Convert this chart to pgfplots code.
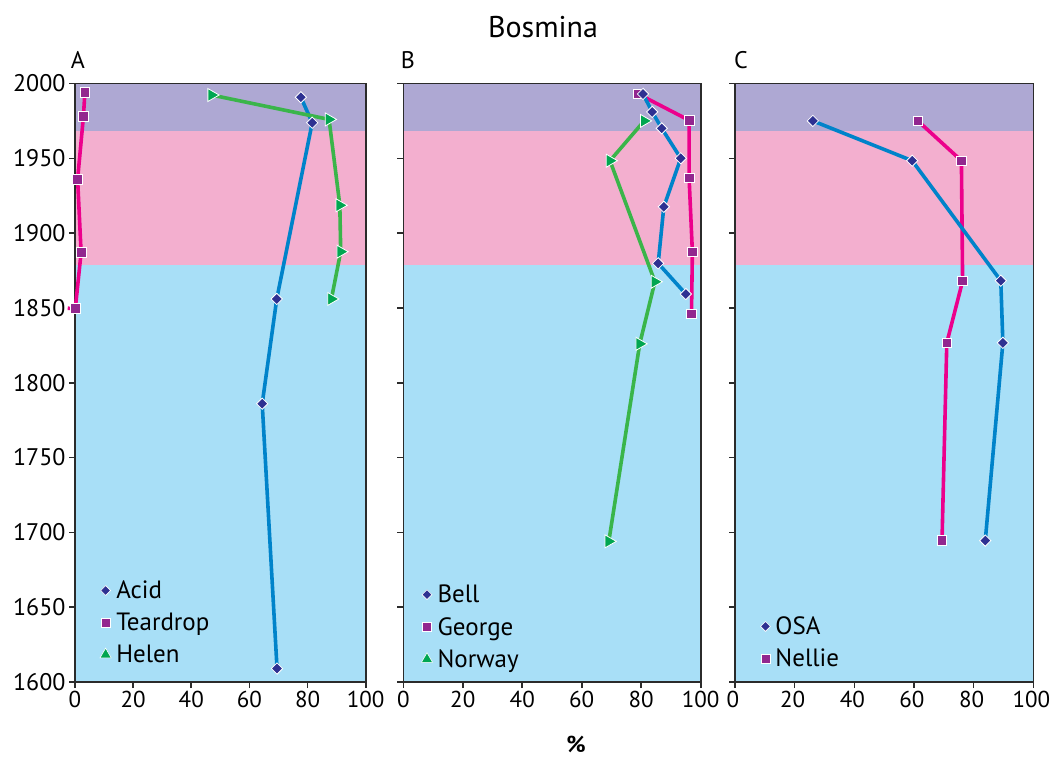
\documentclass[border=0pt]{standalone}
\usepackage{pgfplots}
\pgfplotsset{compat=1.18}
\usepackage{fontspec}
\setmainfont{PT Sans}

% zone shading
\definecolor{bandtop}{HTML}{AEA8D3}
\definecolor{bandmid}{HTML}{F3AFCF}
\definecolor{bandlow}{HTML}{A8DFF7}
% series lines and marks
\definecolor{lnblue}{HTML}{0083CA}
\definecolor{lnpink}{HTML}{EC008C}
\definecolor{lngreen}{HTML}{3AB54A}
\definecolor{mkdiamond}{HTML}{2E3192}
\definecolor{mksquare}{HTML}{92278F}
\definecolor{mktri}{HTML}{00A651}
\definecolor{axgray}{HTML}{2B2B2B}

\pgfplotsset{
  panel/.style={
    scale only axis, height=598.5pt,
    xmin=0, xmax=100, ymin=1600, ymax=2000,
    xtick={0,20,...,100}, ytick={1600,1650,...,2000},
    tick align=outside, tick pos=left, major tick length=6pt,
    axis line style={draw=axgray, line width=1.6pt},
    every tick/.style={draw=axgray, line width=1.6pt},
    yticklabel style={font=\fontsize{24}{28}\selectfont},
    xticklabel style={font=\fontsize{23}{27}\selectfont},
    /pgf/number format/assume math mode=true,
    /pgf/number format/1000 sep={},
    clip=false,
    legend cell align=left,
    legend style={draw=none, fill=none, anchor=north west,
      font=\fontsize{25}{29}\selectfont, row sep=9pt,
      /tikz/every odd column/.append style={column sep=3pt}},
  },
  diaS/.style={line width=3.6pt, color=lnblue, mark=square*, mark size=4pt,
    mark options={rotate=45, fill=mkdiamond, draw=white, line width=0.8pt}},
  sqS/.style={line width=3.6pt, color=lnpink, mark=square*, mark size=4.8pt,
    mark options={fill=mksquare, draw=white, line width=0.8pt}},
  triS/.style={line width=3.6pt, color=lngreen, mark=triangle*, mark size=7.5pt,
    mark options={rotate=-90, fill=mktri, draw=white, line width=0.8pt}},
  legdia/.style={only marks, mark=square*, mark size=3.5pt,
    mark options={rotate=45, fill=mkdiamond, draw=white, line width=0.6pt}},
  legsq/.style={only marks, mark=square*, mark size=4.4pt,
    mark options={fill=mksquare, draw=white, line width=0.6pt}},
  legtri/.style={only marks, mark=triangle*, mark size=6.5pt,
    mark options={fill=mktri, draw=white, line width=0.6pt}},
}

% three dated zones, kept just inside the frame
\newcommand{\zones}{%
  \fill[bandlow] ([shift={(0.8pt,0.8pt)}]axis cs:0,1600) rectangle ([xshift=-0.8pt]axis cs:100,1879);
  \fill[bandmid] ([xshift=0.8pt]axis cs:0,1879) rectangle ([xshift=-0.8pt]axis cs:100,1968);
  \fill[bandtop] ([xshift=0.8pt]axis cs:0,1968) rectangle ([shift={(-0.8pt,-0.8pt)}]axis cs:100,2000);
}

\begin{document}
\begin{tikzpicture}
\path[use as bounding box] (0pt,0pt) rectangle (1050pt,758pt);

\node[font=\fontsize{30}{34}\selectfont] at (543pt,731pt) {Bosmina};
\node[font=\fontsize{24}{28}\selectfont] at (78pt,698pt) {A};
\node[font=\fontsize{24}{28}\selectfont] at (408pt,698pt) {B};
\node[font=\fontsize{24}{28}\selectfont] at (741pt,698pt) {C};
\node[font=\bfseries\fontsize{23}{27}\selectfont] at (576pt,14pt) {\%};

% Panel A
\begin{axis}[panel, width=290.7pt, at={(75pt,76pt)}, anchor=south west,
  legend style={at={(0.075,0.176)}}]
  \zones
  \addlegendimage{legdia}\addlegendentry{Acid}
  \addlegendimage{legsq}\addlegendentry{Teardrop}
  \addlegendimage{legtri}\addlegendentry{Helen}
  \addplot[line width=3.6pt, color=lnpink, forget plot] coordinates {(0.1,1849.5) (-2.5,1849.8)};
  \addplot[sqS, forget plot] coordinates {
    (3.4,1994) (2.9,1978) (0.9,1936) (2.1,1887) (0.1,1849.5)};
  \addplot[diaS, forget plot] coordinates {
    (77.7,1990.8) (81.6,1973.8) (69.4,1856) (64.4,1786) (69.5,1609)};
  \addplot[triS, forget plot] coordinates {
    (47.0,1992.3) (87.4,1976) (91.1,1918.6) (91.4,1887.6) (88.2,1856)};
\end{axis}

% Panel B
\begin{axis}[panel, width=297.4pt, at={(403.3pt,76pt)}, anchor=south west,
  yticklabels={}, legend style={at={(0.05,0.169)}}]
  \zones
  \addlegendimage{legdia}\addlegendentry{Bell}
  \addlegendimage{legsq}\addlegendentry{George}
  \addlegendimage{legtri}\addlegendentry{Norway}
  \addplot[sqS, forget plot] coordinates {
    (79.0,1993) (96.1,1975.4) (96.1,1936.8) (97.2,1887.4) (96.9,1846)};
  \addplot[triS, forget plot] coordinates {
    (81.0,1975) (69.5,1948.4) (84.6,1867.5) (79.5,1826) (69.1,1694)};
  \addplot[diaS, forget plot] coordinates {
    (80.6,1993) (83.7,1981) (86.9,1970) (93.3,1950) (87.6,1917.6) (85.7,1879.8) (95.0,1859.3)};
\end{axis}

% Panel C
\begin{axis}[panel, width=298.3pt, at={(735pt,76pt)}, anchor=south west,
  yticklabels={}, xticklabel style={xshift=-2pt},
  legend style={at={(0.075,0.116)}}]
  \zones
  \addlegendimage{legdia}\addlegendentry{OSA}
  \addlegendimage{legsq}\addlegendentry{Nellie}
  \addplot[sqS, forget plot] coordinates {
    (61.3,1975) (75.9,1948.4) (76.3,1868) (71.0,1826.7) (69.4,1694.5)};
  \addplot[diaS, forget plot] coordinates {
    (26.1,1975) (59.4,1948.4) (89.1,1868.2) (89.8,1826.7) (83.9,1694.5)};
\end{axis}
\end{tikzpicture}
\end{document}
